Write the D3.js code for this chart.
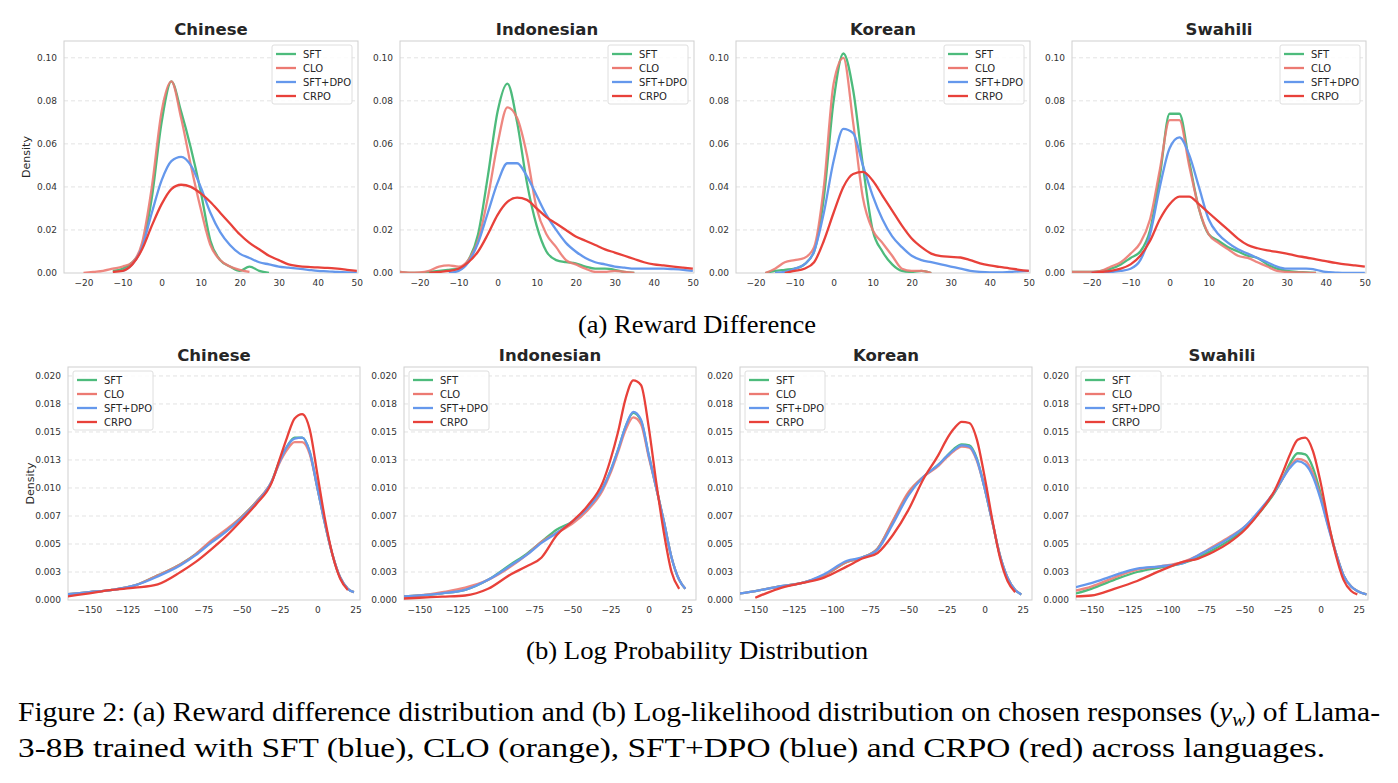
<!DOCTYPE html>
<html>
<head>
<meta charset="utf-8">
<script src="https://cdn.jsdelivr.net/npm/d3@7"></script>
<style>
  body { margin: 0; background: #fff; }
  svg { display: block; }
</style>
</head>
<body>
<svg id="fig" width="1398" height="783"></svg>
<script>
// languages and series
const languages = ["Chinese", "Indonesian", "Korean", "Swahili"];
const seriesNames = ["SFT", "CLO", "SFT+DPO", "CRPO"];
const seriesColors = ["#4dbb7c", "#ec7a72", "#6598ec", "#e8413a"];

// (a) reward difference, density x1000 sampled on rewardX (null = no curve there)
const rewardX = [-25,-22.5,-20,-17.5,-15,-12.5,-10,-7.5,-5,-2.5,0,2.5,5,7.5,10,12.5,15,17.5,20,22.5,25,27.5,30,32.5,35,37.5,40,42.5,45,47.5,50];
const n = null;
const rewardChinese = [
  [n,n,n,n,n,1,2,5,12,35,70,89,75,58,38,15,6,3,1,3,1,0,n,n,n,n,n,n,n,n,n],
  [n,n,0,0.5,1,2,3,5,14,40,75,89,72,50,30,13,6,3,1.5,0.5,n,n,n,n,n,n,n,n,n,n,n],
  [n,n,n,n,n,n,1,4,12,28,43,52,54,50,40,28,19,13,9,7,5,4,3,2.5,2,1.5,1,0.8,0.5,0.3,0.2],
  [n,n,n,n,n,0.5,1,4,11,22,32,39,41,40,37,33,28,23,18,14,11,8,6,4,3.2,2.8,2.6,2.4,2,1.5,1]
];
const rewardIndonesian = [
  [0.5,0,0,0.5,1,1.5,2,6,18,45,75,88,70,42,22,10,6,5,4.5,3,2,2,1.5,0.5,0,n,n,n,n,n,n],
  [0.5,0.2,0.3,1,3,3.5,3,6,15,35,60,77,72,55,30,18,12,6,4,2,0.5,0.5,1,0.5,0,n,n,n,n,n,n],
  [n,n,n,n,n,0,1,5,14,28,42,51,51,45,36,27,20,14,10,7,5,4,3,2.5,2,2,2,2,1.8,1.5,1],
  [n,n,n,0,0.5,1,2,5,10,18,27,33,35,34,30,26,23,20,17,15,13,11,9.5,8,6.5,5,4,3.5,3,2.5,2]
];
const rewardKorean = [
  [n,n,n,0,1,1.5,2,4,10,35,80,102,85,50,20,10,4,1,0.5,1,0,n,n,n,n,n,n,n,n,n,n],
  [n,n,n,0,2,5,6,7,12,40,88,100,70,35,20,14,8,2,1,1,0,n,n,n,n,n,n,n,n,n,n],
  [n,n,n,n,0,0.5,2,4,10,28,52,67,65,50,36,25,17,12,8,6,5,4,3,2,1,0.5,0.3,0.3,0.5,0.8,1],
  [n,n,n,n,n,0,1,2,5,15,28,40,46,47,43,36,29,22,16,12,9,7.8,7.5,7.2,6,4.5,3.5,2.8,2.2,1.5,1]
];
const rewardSwahili = [
  [0.5,0.5,0.5,1,2,4,7,10,20,45,74,74,52,30,18,15,12,10,8,7,4,2,1,0.5,0.3,0,n,n,n,n,n],
  [0.5,0.5,0.5,1,3,5,9,14,25,48,71,71,50,30,18,14,11,8,7,5,3,1,0.5,0.3,0.2,0,n,n,n,n,n],
  [n,n,0,0,0.5,1,2,6,18,40,58,63,55,40,25,18,14,11,9,7,5,3,2,2,2,1.5,0.5,0.2,0,0,0],
  [n,n,0,0.5,1,2,4,8,15,25,32,35.5,35.5,32,28,24,20,16,13,11.5,10.5,9.8,9,8,7.2,6.3,5.5,4.7,4,3.5,3]
];
const rewardData = [rewardChinese, rewardIndonesian, rewardKorean, rewardSwahili];

// (b) log probability, density x10000 sampled on logpX
const logpX = [-165,-150,-135,-120,-105,-90,-80,-70,-60,-50,-40,-30,-25,-20,-15,-10,-5,0,5,10,15,20,24,30];
const logpChinese = [
  [5,7,9,13,22,32,41,52,62,74,88,106,124,137,145,145,132,100,68,40,20,10,7,n],
  [5,7,9,13,22,32,41,53,63,74,88,106,122,134,141,141,130,100,68,40,20,10,7,n],
  [5,7,9,13,21,31,40,51,61,73,87,106,123,137,144,145,132,100,68,40,20,10,7,n],
  [3,6,9,11,14,25,34,45,57,71,86,105,125,145,162,166,152,112,72,40,19,9,n,n]
];
const logpIndonesian = [
  [3,4,6,9,18,32,41,52,63,70,82,100,115,134,155,167,160,130,100,70,38,18,10,n],
  [3,4,7,11,18,30,40,52,60,68,80,98,113,132,152,163,157,128,100,70,38,18,10,n],
  [3,4,6,9,18,31,40,51,60,70,82,100,115,134,155,168,161,130,100,70,38,18,10,n],
  [1,2,3,4,10,23,30,38,58,70,84,105,125,150,180,196,192,155,105,60,25,10,n,n]
];
const logpKorean = [
  [5,8,12,15,22,34,38,46,70,95,110,121,128,135,139,138,126,100,70,40,20,9,5,n],
  [5,8,12,15,22,34,38,46,71,96,110,120,127,133,137,136,124,100,70,40,20,9,5,n],
  [5,8,12,15,23,35,38,45,68,93,110,121,128,134,138,137,125,100,70,40,20,9,5,n],
  [n,2,10,15,20,30,37,42,58,80,108,130,143,153,159,158,143,110,72,38,17,7,n,n]
];
const logpSwahili = [
  [4,10,18,25,29,33,38,45,53,63,78,96,108,122,131,130,118,95,68,42,22,12,8,5],
  [7,12,20,27,30,34,40,48,56,65,79,97,108,119,126,124,113,92,66,42,22,12,8,5],
  [10,15,22,28,30,33,40,47,55,65,80,97,108,118,124,121,110,90,65,42,22,12,8,5],
  [3,4,10,17,26,34,37,43,51,62,78,98,113,130,143,145,133,105,70,40,18,8,5,n]
];
const logpData = [logpChinese, logpIndonesian, logpKorean, logpSwahili];

const rewardTicks = [-20, -10, 0, 10, 20, 30, 40, 50];
const rewardYTicks = ["0.00", "0.02", "0.04", "0.06", "0.08", "0.10"];
const logpTicks = [-150, -125, -100, -75, -50, -25, 0, 25];
const logpYTicks = ["0.000", "0.003", "0.005", "0.007", "0.010", "0.013", "0.015", "0.018", "0.020"];

const svg = d3.select("#fig");
const sans = "'DejaVu Sans', sans-serif";
const serif = "'Liberation Serif', 'Times New Roman', serif";

// one subplot
function panel(opts) {
  const { left, top, width, height, xDomain, yMax, xs, rows, scale, xTicks, yTicks, yStep, title, legendLeft, yLabel, id } = opts;
  const x = d3.scaleLinear().domain(xDomain).range([left, left + width]);
  const y = d3.scaleLinear().domain([0, yMax]).range([top + height, top]);
  const g = svg.append("g");

  g.append("clipPath").attr("id", id).append("rect")
    .attr("x", left).attr("y", top - 5).attr("width", width).attr("height", height + 5);

  // grid
  yTicks.forEach((t, i) => {
    if (i === 0) return;
    g.append("line")
      .attr("x1", left).attr("x2", left + width)
      .attr("y1", y(i * yStep)).attr("y2", y(i * yStep))
      .attr("stroke", "#dcdcdc").attr("stroke-width", 0.8).attr("stroke-dasharray", "4,3");
  });

  g.append("rect").attr("x", left).attr("y", top).attr("width", width).attr("height", height)
    .attr("fill", "none").attr("stroke", "#cfcfcf").attr("stroke-width", 1);

  // axes (labels only, seaborn whitegrid style)
  const xAxis = g.append("g").attr("transform", `translate(0,${top + height})`)
    .call(d3.axisBottom(x).tickValues(xTicks).tickSize(0).tickPadding(7));
  xAxis.select(".domain").remove();
  xAxis.selectAll("text").attr("font-family", sans).attr("font-size", 9).attr("fill", "#333");

  const yAxis = g.append("g").attr("transform", `translate(${left},0)`)
    .call(d3.axisLeft(y).tickValues(yTicks.map((t, i) => i * yStep)).tickFormat((d, i) => yTicks[i]).tickSize(0).tickPadding(7));
  yAxis.select(".domain").remove();
  yAxis.selectAll("text").attr("font-family", sans).attr("font-size", 9).attr("fill", "#333");

  // curves
  const line = d3.line()
    .defined(d => d[1] !== null)
    .x(d => x(d[0])).y(d => y(d[1] / scale))
    .curve(d3.curveMonotoneX);
  rows.forEach((vals, k) => {
    g.append("path")
      .attr("clip-path", `url(#${id})`)
      .attr("d", line(xs.map((xv, j) => [xv, vals[j]])))
      .attr("fill", "none")
      .attr("stroke", seriesColors[k])
      .attr("stroke-width", 2.3)
      .attr("stroke-opacity", k === 1 ? 0.9 : 1)
      .attr("stroke-linejoin", "round");
  });

  g.append("text").attr("x", left + width / 2).attr("y", top - 6)
    .attr("text-anchor", "middle").attr("font-family", sans).attr("font-weight", "bold")
    .attr("font-size", 16.5).attr("fill", "#262626").text(title);

  if (yLabel) {
    g.append("text").attr("transform", `translate(${left - 34},${top + height / 2}) rotate(-90)`)
      .attr("text-anchor", "middle").attr("font-family", sans).attr("font-size", 11)
      .attr("fill", "#262626").text("Density");
  }

  // legend
  const lw = 80, lh = 59;
  const lx = legendLeft ? left + 5 : left + width - lw - 6;
  const ly = top + 4;
  g.append("rect").attr("x", lx).attr("y", ly).attr("width", lw).attr("height", lh)
    .attr("fill", "#fff").attr("fill-opacity", 0.85).attr("stroke", "#dedede").attr("rx", 2);
  seriesNames.forEach((s, k) => {
    const yy = ly + 9 + k * 14;
    g.append("line").attr("x1", lx + 4).attr("x2", lx + 24).attr("y1", yy).attr("y2", yy)
      .attr("stroke", seriesColors[k]).attr("stroke-width", 2.3);
    g.append("text").attr("x", lx + 31).attr("y", yy + 3.5)
      .attr("font-family", sans).attr("font-size", 10).attr("fill", "#262626").text(s);
  });
}

languages.forEach((lang, i) => {
  panel({
    id: "clipA" + i, left: 64 + 336 * i, top: 41, width: 294, height: 232,
    xDomain: [-25, 50.3], yMax: 0.1078, xs: rewardX, rows: rewardData[i], scale: 1000,
    xTicks: rewardTicks, yTicks: rewardYTicks, yStep: 0.02, title: lang,
    legendLeft: false, yLabel: i === 0
  });
  panel({
    id: "clipB" + i, left: 68 + 336 * i, top: 367, width: 292, height: 233,
    xDomain: i === 0 ? [-164, 28] : [-160, 31], yMax: 0.0208, xs: logpX, rows: logpData[i], scale: 10000,
    xTicks: logpTicks, yTicks: logpYTicks, yStep: 0.0025, title: lang,
    legendLeft: true, yLabel: i === 0
  });
});

// captions
svg.append("text").attr("x", 697).attr("y", 333).attr("text-anchor", "middle")
  .attr("font-family", serif).attr("font-size", 25).attr("fill", "#000")
  .attr("textLength", 238).attr("lengthAdjust", "spacingAndGlyphs").text("(a) Reward Difference");
svg.append("text").attr("x", 697).attr("y", 659).attr("text-anchor", "middle")
  .attr("font-family", serif).attr("font-size", 25).attr("fill", "#000")
  .attr("textLength", 342).attr("lengthAdjust", "spacingAndGlyphs").text("(b) Log Probability Distribution");

const cap1 = svg.append("text").attr("x", 18).attr("y", 721)
  .attr("font-family", serif).attr("font-size", 28).attr("fill", "#000")
  .attr("textLength", 1362).attr("lengthAdjust", "spacingAndGlyphs");
cap1.append("tspan").text("Figure 2: (a) Reward difference distribution and (b) Log-likelihood distribution on chosen responses (");
cap1.append("tspan").attr("font-style", "italic").text("y");
cap1.append("tspan").attr("font-style", "italic").attr("font-size", 19).attr("dy", 5).text("w");
cap1.append("tspan").attr("dy", -5).text(") of Llama-");
svg.append("text").attr("x", 18).attr("y", 757)
  .attr("font-family", serif).attr("font-size", 28).attr("fill", "#000")
  .attr("textLength", 1307).attr("lengthAdjust", "spacingAndGlyphs")
  .text("3-8B trained with SFT (blue), CLO (orange), SFT+DPO (blue) and CRPO (red) across languages.");
</script>
</body>
</html>
